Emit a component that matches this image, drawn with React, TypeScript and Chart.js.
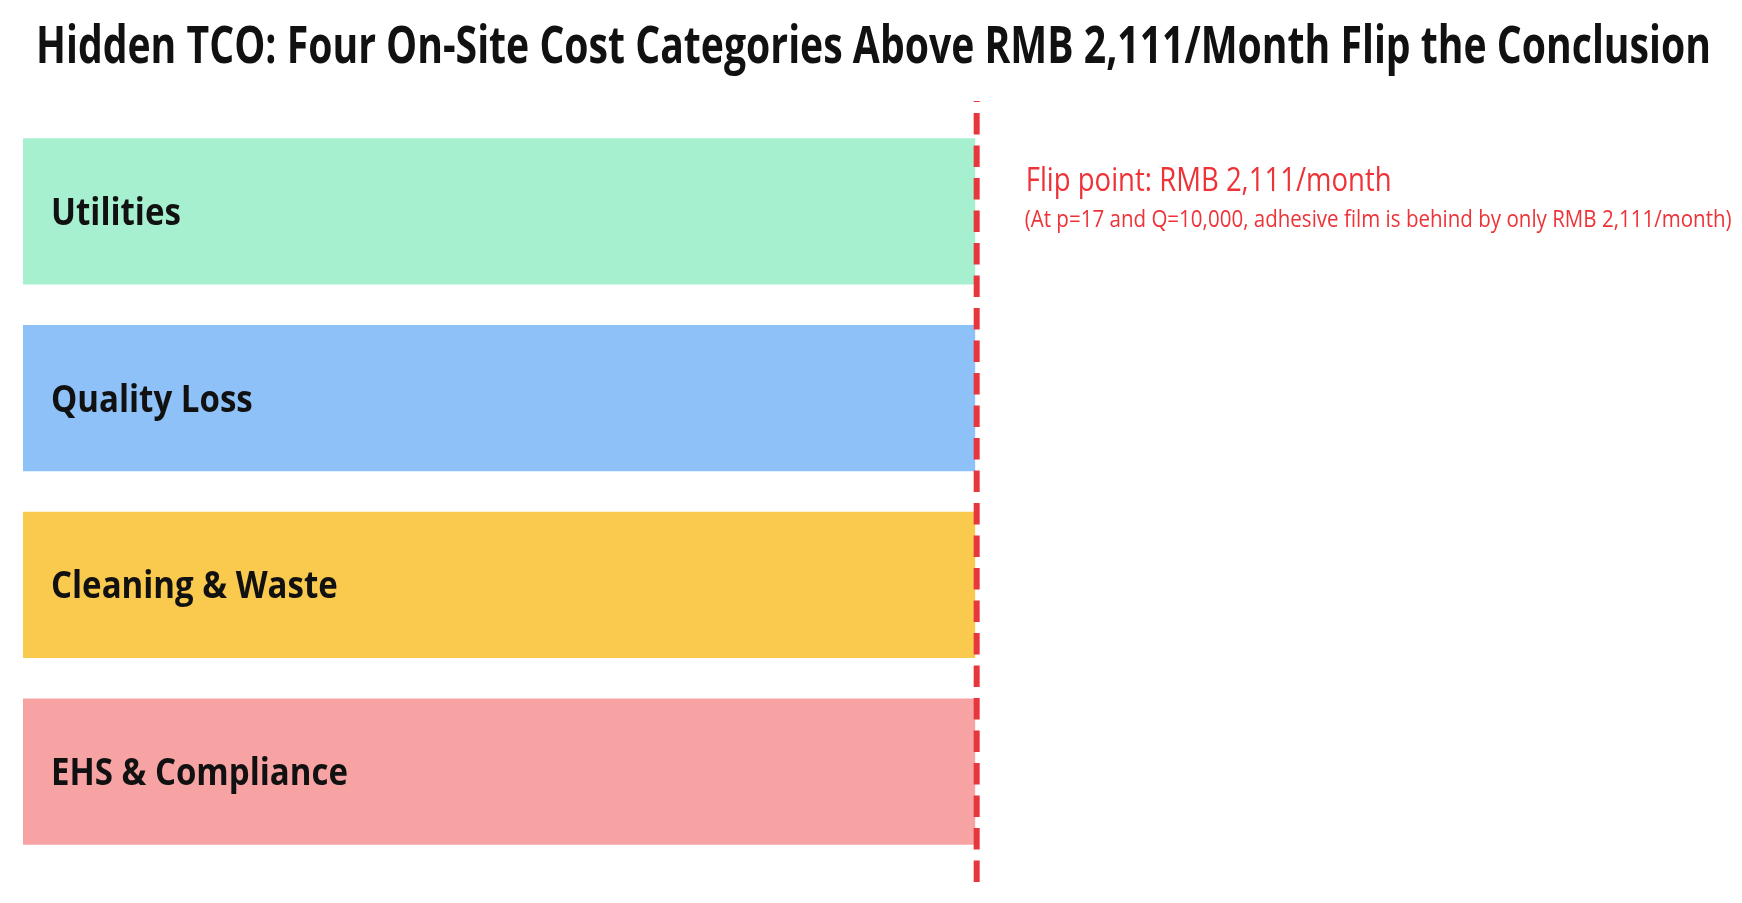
import React, { useEffect, useRef } from "react";
import { Chart, registerables } from "chart.js";

Chart.register(...registerables);

const categories = ["Utilities", "Quality Loss", "Cleaning & Waste", "EHS & Compliance"];
const flipPoint = 2111;
const values = [2111, 2111, 2111, 2111];
const barColors = ["#A6F0D0", "#8FC1F9", "#F9CA4E", "#F8A3A3"];
const titleText = "Hidden TCO: Four On-Site Cost Categories Above RMB 2,111/Month Flip the Conclusion";
const noteLine1 = "Flip point: RMB 2,111/month";
const noteLine2 = "(At p=17 and Q=10,000, adhesive film is behind by only RMB 2,111/month)";

const RED_LINE = "#E8363D";
const RED_TEXT = "#EE3338";

function drawCondensed(ctx: CanvasRenderingContext2D, text: string, x: number, y: number, font: string, targetWidth: number, color: string) {
  ctx.save();
  ctx.font = font;
  ctx.fillStyle = color;
  ctx.textAlign = "left";
  ctx.textBaseline = "alphabetic";
  const w = ctx.measureText(text).width;
  const sx = Math.min(1, targetWidth / w);
  ctx.translate(x, y);
  ctx.scale(sx, 1);
  ctx.fillText(text, 0, 0);
  ctx.restore();
}

const overlayPlugin = {
  id: "overlay",
  afterDatasetsDraw(chart: any) {
    const ctx: CanvasRenderingContext2D = chart.ctx;
    const xScale = chart.scales.x;
    // title
    drawCondensed(ctx, titleText, 36, 63, 'bold 52px "Open Sans"', 1675, "#111111");

    // labels inside bars
    const meta = chart.getDatasetMeta(0);
    ctx.save();
    ctx.font = 'bold 38px "Open Sans"';
    const refW = ctx.measureText("EHS & Compliance").width;
    ctx.restore();
    const labelScale = Math.min(1, 297 / refW);
    meta.data.forEach((bar: any, i: number) => {
      ctx.save();
      ctx.font = 'bold 38px "Open Sans"';
      ctx.fillStyle = "#111111";
      ctx.translate(chart.chartArea.left + 28, bar.y + 13.5);
      ctx.scale(labelScale, 1);
      ctx.fillText(categories[i], 0, 0);
      ctx.restore();
    });

    // dashed flip line
    const lx = xScale.getPixelForValue(flipPoint) + 1.5;
    ctx.save();
    ctx.strokeStyle = RED_LINE;
    ctx.lineWidth = 6;
    ctx.setLineDash([21.5, 11]);
    ctx.lineDashOffset = 20.5;
    ctx.beginPath();
    ctx.moveTo(lx, 101);
    ctx.lineTo(lx, 882);
    ctx.stroke();
    ctx.restore();

    // annotation
    drawCondensed(ctx, noteLine1, lx + 49, 191, '33px "Open Sans"', 366, RED_TEXT);
    drawCondensed(ctx, noteLine2, lx + 48, 227, '23px "Open Sans"', 707, RED_TEXT);
  },
};

export default function App() {
  const ref = useRef<HTMLCanvasElement | null>(null);
  useEffect(() => {
    document.body.style.margin = "0";
    document.body.style.background = "#FFFFFF";
    const canvas = ref.current!;
    const chart = new Chart(canvas, {
      type: "bar",
      data: {
        labels: categories,
        datasets: [
          {
            data: values,
            backgroundColor: barColors,
            borderWidth: 0,
            categoryPercentage: 1,
            barPercentage: 0.782,
          },
        ],
      },
      options: {
        indexAxis: "y",
        responsive: false,
        animation: false,
        devicePixelRatio: 1,
        layout: { padding: { left: 23, right: 5, top: 118, bottom: 38 } },
        plugins: {
          legend: { display: false },
          title: { display: false },
          tooltip: { enabled: false },
        },
        scales: {
          x: { display: false, min: 0, max: 3800 },
          y: { display: false },
        },
      },
      plugins: [overlayPlugin],
    });
    return () => chart.destroy();
  }, []);
  return (
    <div style={{ width: 1742, height: 903, overflow: "hidden", background: "#FFFFFF" }}>
      <canvas ref={ref} width={1742} height={903} style={{ display: "block" }} />
    </div>
  );
}
